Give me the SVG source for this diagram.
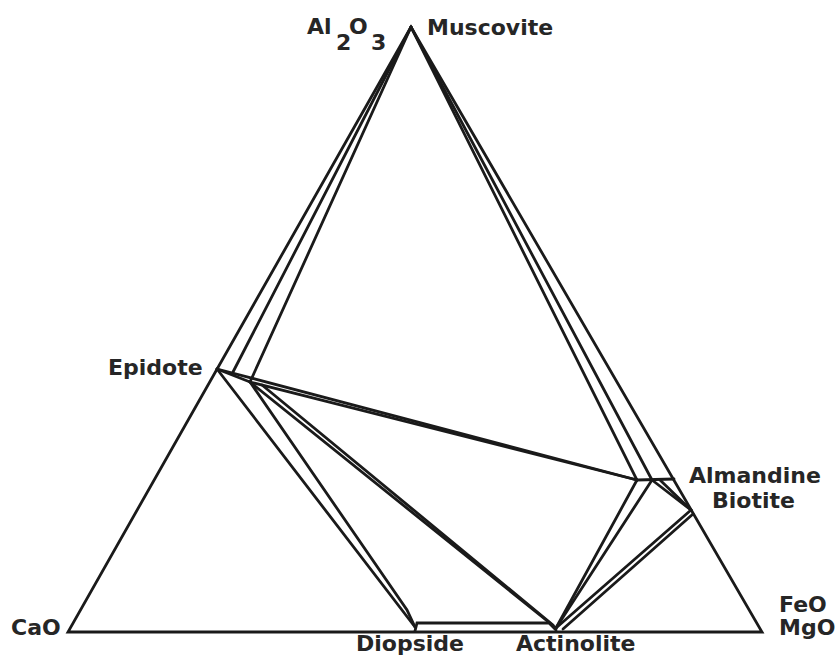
<svg xmlns="http://www.w3.org/2000/svg" width="835" height="660" viewBox="0 0 835 660">
<style>
.l{fill:none;stroke:#1a1a1a;stroke-width:2.8;stroke-linejoin:miter;stroke-linecap:round}
.t{font-family:"DejaVu Sans",sans-serif;font-weight:bold;font-size:22px;fill:#262626}
</style>
<rect width="835" height="660" fill="#ffffff"/>
<g id="connectors">
<polygon class="l" points="411,27 68,632 762,632"/>
<line class="l" x1="411" y1="27" x2="233" y2="372"/>
<line class="l" x1="411" y1="27" x2="250" y2="382"/>
<line class="l" x1="411" y1="27" x2="637" y2="480"/>
<line class="l" x1="411" y1="27" x2="652" y2="480"/>
<polyline class="l" points="217,369 250,382 637,480"/>
<line class="l" x1="217" y1="369" x2="637" y2="480"/>
<line class="l" x1="637" y1="480" x2="674" y2="479"/>
<line class="l" x1="652" y1="480" x2="691" y2="510"/>
<line class="l" x1="660" y1="480" x2="691" y2="510"/>
<line class="l" x1="637" y1="480" x2="556" y2="628"/>
<line class="l" x1="652" y1="480" x2="556" y2="628"/>
<line class="l" x1="691" y1="510" x2="556" y2="628"/>
<line class="l" x1="693" y1="514" x2="563" y2="629"/>
<line class="l" x1="250" y1="382" x2="556" y2="628"/>
<line class="l" x1="262" y1="385" x2="553" y2="625"/>
<line class="l" x1="217" y1="369" x2="415" y2="627"/>
<polyline class="l" points="250,382 407,610 415,627"/>
<polyline class="l" points="415,631 417,623 549,623 556,630"/>
</g>
<g id="n-al2o3"><text class="t" x="307" y="34">Al</text><text class="t" x="336" y="50">2</text><text class="t" x="349" y="34">O</text><text class="t" x="371" y="50">3</text></g>
<g id="n-muscovite"><text class="t" x="427" y="35">Muscovite</text></g>
<g id="n-epidote"><text class="t" x="108" y="375">Epidote</text></g>
<g id="n-almandine"><text class="t" x="689" y="483" font-size="21.5">Almandine</text></g>
<g id="n-biotite"><text class="t" x="712" y="508">Biotite</text></g>
<g id="n-cao"><text class="t" x="11" y="635">CaO</text></g>
<g id="n-feomgo"><text class="t" x="779" y="612" font-size="20.5">FeO</text><text class="t" x="779" y="635" font-size="20.5">MgO</text></g>
<g id="n-diopside"><text class="t" x="356" y="651">Diopside</text></g>
<g id="n-actinolite"><text class="t" x="516" y="651" font-size="21.5">Actinolite</text></g>
</svg>
